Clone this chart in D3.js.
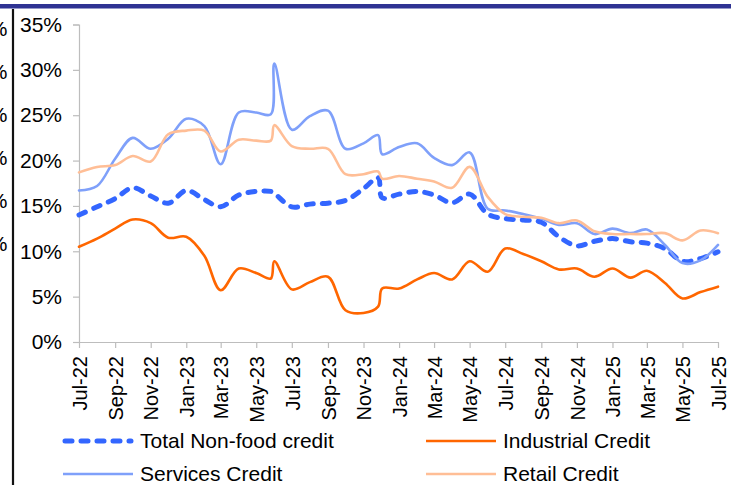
<!DOCTYPE html>
<html>
<head>
<meta charset="utf-8">
<script src="https://cdn.jsdelivr.net/npm/d3@7/dist/d3.min.js"></script>
<style>
  html, body { margin: 0; padding: 0; background: #fff; }
  svg { display: block; }
  text { font-family: "Liberation Sans", Arial, sans-serif; fill: #000; }
</style>
</head>
<body>
<svg id="chart" width="731" height="485"></svg>
<script>
// ---- data ----
const dates = [
  "2022-07-01","2022-08-01","2022-09-01","2022-10-01","2022-11-01","2022-12-01",
  "2023-01-01","2023-02-01","2023-03-01","2023-04-01","2023-05-01","2023-05-26","2023-06-01",
  "2023-07-01","2023-08-01","2023-09-01","2023-10-01","2023-11-01","2023-11-26","2023-12-03",
  "2024-01-01","2024-02-01","2024-03-01","2024-04-01","2024-05-01","2024-06-01",
  "2024-07-01","2024-08-01","2024-09-01","2024-10-01","2024-11-01","2024-12-01",
  "2025-01-01","2025-02-01","2025-03-01","2025-04-01","2025-05-01","2025-06-01","2025-07-01"
];
const totalNonFood = [14.0,14.9,15.8,17.0,16.1,15.3,16.7,15.7,14.9,16.2,16.6,16.6,16.4,
  14.9,15.2,15.3,15.6,16.9,18.1,15.9,16.3,16.6,16.2,15.35,16.3,14.1,
  13.6,13.45,13.2,11.6,10.6,11.1,11.4,11.05,10.9,10.3,8.9,9.2,9.95];
const industrial = [10.5,11.4,12.5,13.5,13.1,11.5,11.6,9.5,5.7,8.1,7.6,7.0,8.9,
  5.8,6.6,7.2,3.5,3.2,3.9,5.9,5.9,6.9,7.6,6.9,8.9,7.75,
  10.3,9.7,8.9,8.0,8.1,7.2,8.1,7.1,7.85,6.5,4.8,5.5,6.1];
const services = [16.7,17.2,20.2,22.5,21.3,22.4,24.6,23.8,19.6,25.3,25.3,25.1,30.7,
  23.4,24.9,25.5,21.3,21.9,22.8,20.7,21.5,21.9,20.3,19.5,20.9,14.7,
  14.5,14.1,13.6,12.9,13.1,11.9,12.5,12.0,12.4,10.7,8.7,9.0,10.7];
const retail = [18.7,19.3,19.5,20.5,19.9,22.9,23.3,23.3,21.0,22.3,22.2,22.2,23.9,
  21.6,21.3,21.3,18.5,18.5,18.8,18.0,18.3,18.0,17.7,17.0,19.3,16.0,
  14.1,13.8,13.7,13.1,13.4,12.2,11.9,11.9,11.9,12.0,11.2,12.3,12.0];
const tickLabels = ["Jul-22","Sep-22","Nov-22","Jan-23","Mar-23","May-23","Jul-23","Sep-23",
  "Nov-23","Jan-24","Mar-24","May-24","Jul-24","Sep-24","Nov-24","Jan-25","Mar-25","May-25","Jul-25"];
const yTicks = [0,5,10,15,20,25,30,35];
const sideLabels = ["35%","30%","25%","20%","15%","10%"];

// ---- setup ----
const svg = d3.select("#chart");
const parseDay = d3.timeParse("%Y-%m-%d");
const parseTick = d3.timeParse("%b-%y");
const xDates = dates.map(parseDay);
const tickDates = tickLabels.map(parseTick);

const x = d3.scaleTime().domain([tickDates[0], tickDates[tickDates.length - 1]]).range([79, 718]);
const y = d3.scaleLinear().domain([0, 35]).range([342, 24.5]);

// top bar and left divider (page frame)
svg.append("rect").attr("x", 0).attr("y", 4).attr("width", 731).attr("height", 4.5).attr("fill", "#2F3393");
svg.append("line").attr("x1", 13).attr("x2", 13).attr("y1", 9).attr("y2", 485)
  .attr("stroke", "#111").attr("stroke-width", 2.2);

// clipped labels of the neighbouring chart on the left edge
const ySide = d3.scaleLinear().domain([35, 10]).range([29, 244]);
svg.append("g").selectAll("text").data(sideLabels).join("text")
  .attr("x", 7.5).attr("y", d => ySide(parseFloat(d)))
  .attr("dy", "0.35em").attr("text-anchor", "end")
  .style("font-size", "21px").text(d => d);
// cover behind divider
svg.append("rect").attr("x", 12).attr("y", 9).attr("width", 0).attr("height", 0);

// ---- axes ----
const gy = svg.append("g").attr("transform", "translate(79,0)")
  .call(d3.axisLeft(y).tickValues(yTicks).tickFormat(d => d + "%").tickSize(6).tickPadding(11));
gy.select(".domain").attr("stroke", "#BDBDBD").attr("stroke-width", 1.2);
gy.selectAll(".tick line").attr("stroke", "#BDBDBD").attr("stroke-width", 1.2);
gy.selectAll(".tick text").style("font-size", "21px").style("font-family", "'Liberation Sans', Arial, sans-serif").attr("fill", "#000");

const gx = svg.append("g").attr("transform", "translate(0,342)")
  .call(d3.axisBottom(x).tickValues(tickDates).tickFormat((d, i) => tickLabels[i]).tickSize(6).tickSizeOuter(0));
gx.select(".domain").attr("stroke", "#BDBDBD").attr("stroke-width", 1.2);
gx.selectAll(".tick line").attr("stroke", "#BDBDBD").attr("stroke-width", 1.2);
gx.selectAll(".tick text")
  .style("font-size", "20px").style("font-family", "'Liberation Sans', Arial, sans-serif").attr("fill", "#000")
  .attr("text-anchor", "end")
  .attr("transform", "rotate(-90)")
  .attr("x", -14).attr("y", 0).attr("dy", "0.36em");

// ---- lines ----
const series = [
  { name: "Total Non-food credit", values: totalNonFood, color: "#3366FF", width: 5, dash: "7,9", cap: "round" },
  { name: "Industrial Credit", values: industrial, color: "#FF6600", width: 2.6, dash: null, cap: "round" },
  { name: "Services Credit", values: services, color: "#7FA0FA", width: 2.6, dash: null, cap: "round" },
  { name: "Retail Credit", values: retail, color: "#FFBE96", width: 2.6, dash: null, cap: "round" }
];

const line = d3.line()
  .x(d => x(d.date)).y(d => y(d.v))
  .curve(d3.curveCatmullRom.alpha(0.5));

svg.append("g").selectAll("path").data(series).join("path")
  .attr("d", s => line(s.values.map((v, i) => ({ date: xDates[i], v }))))
  .attr("fill", "none")
  .attr("stroke", s => s.color)
  .attr("stroke-width", s => s.width)
  .attr("stroke-dasharray", s => s.dash)
  .attr("stroke-linecap", s => s.cap)
  .attr("stroke-linejoin", "round");

// ---- legend ----
const legendPos = [
  { lx: 63, tx: 140, ly: 441 },
  { lx: 426, tx: 503, ly: 441 },
  { lx: 63, tx: 140, ly: 474 },
  { lx: 426, tx: 503, ly: 474 }
];
const lg = svg.append("g").selectAll("g").data(series).join("g");
lg.append("line")
  .attr("x1", (s, i) => legendPos[i].lx + (s.dash ? 2 : 0))
  .attr("x2", (s, i) => legendPos[i].lx + 70 - (s.dash ? 2 : 0))
  .attr("y1", (s, i) => legendPos[i].ly).attr("y2", (s, i) => legendPos[i].ly)
  .attr("stroke", s => s.color).attr("stroke-width", s => s.width)
  .attr("stroke-dasharray", s => s.dash).attr("stroke-linecap", s => s.dash ? "round" : "butt");
lg.append("text")
  .attr("x", (s, i) => legendPos[i].tx).attr("y", (s, i) => legendPos[i].ly)
  .attr("dy", "0.35em").style("font-size", "21px")
  .text(s => s.name);
</script>
</body>
</html>
